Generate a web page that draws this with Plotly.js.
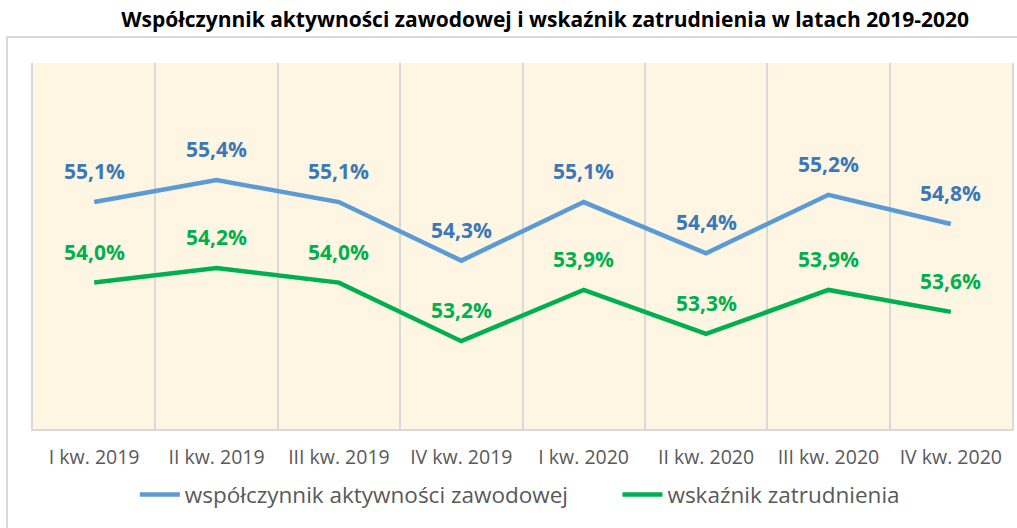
<!DOCTYPE html>
<html>
<head>
<meta charset="utf-8">
<script src="https://cdn.plot.ly/plotly-3.0.1.min.js"></script>
<style>html,body{margin:0;padding:0;background:#fff;}#chart{width:1017px;height:528px;}</style>
</head>
<body>
<div id="chart"></div>
<script>
const categories = ["I kw. 2019","II kw. 2019","III kw. 2019","IV kw. 2019","I kw. 2020","II kw. 2020","III kw. 2020","IV kw. 2020"];
const activityRate = [55.1, 55.4, 55.1, 54.3, 55.1, 54.4, 55.2, 54.8];
const employmentRate = [54.0, 54.2, 54.0, 53.2, 53.9, 53.3, 53.9, 53.6];
const seriesNames = ["współczynnik aktywności zawodowej", "wskaźnik zatrudnienia"];
const chartTitle = "Współczynnik aktywności zawodowej i wskaźnik zatrudnienia w latach 2019-2020";

const fmt = v => v.toFixed(1).replace('.', ',') + '%';
const FONT = "Open Sans, Noto Sans, sans-serif";

const traces = [
  {x: categories, y: activityRate, name: seriesNames[0], type: 'scatter', mode: 'lines', legend: 'legend',
   line: {color: '#5B9BD5', width: 4.5}, hoverinfo: 'skip'},
  {x: categories, y: employmentRate, name: seriesNames[1], type: 'scatter', mode: 'lines', legend: 'legend2',
   line: {color: '#00B050', width: 4.5}, hoverinfo: 'skip'}
];

const annotations = [];
activityRate.forEach((v, i) => annotations.push({x: categories[i], y: v, xref: 'x', yref: 'y', text: fmt(v),
  showarrow: false, yshift: 31, font: {family: FONT, size: 21, color: '#3A78B8', weight: 'bold'}}));
employmentRate.forEach((v, i) => annotations.push({x: categories[i], y: v, xref: 'x', yref: 'y', text: fmt(v),
  showarrow: false, yshift: 31, font: {family: FONT, size: 21, color: '#00B050', weight: 'bold'}}));

const legendFont = {family: FONT, size: 22.5, color: '#595959'};

const layout = {
  width: 1017, height: 528,
  margin: {l: 33, r: 5, t: 63, b: 99},
  paper_bgcolor: '#FFFFFF',
  plot_bgcolor: '#FEF5E2',
  title: {text: '<b>' + chartTitle + '</b>', x: 0.536, xref: 'container', xanchor: 'center', y: 0.963, yref: 'container', yanchor: 'middle',
          font: {family: FONT, size: 21, color: '#000000'}},
  xaxis: {type: 'category', tickson: 'boundaries', showgrid: true, gridcolor: '#D9D9D9', gridwidth: 2,
          showline: true, linecolor: '#D9D9D9', linewidth: 2, ticks: '', ticklabelstandoff: 10,
          tickfont: {family: FONT, size: 19.5, color: '#595959'}, range: [-0.5, 7.5], fixedrange: true},
  yaxis: {range: [52, 57], showgrid: false, zeroline: false, showticklabels: false, ticks: '',
          showline: true, mirror: true, linecolor: '#D9D9D9', linewidth: 2, fixedrange: true},
  showlegend: true,
  legend: {orientation: 'h', x: 0.104, xanchor: 'left', y: -0.18, yanchor: 'middle', font: legendFont,
           itemwidth: 40, bgcolor: 'rgba(0,0,0,0)'},
  legend2: {orientation: 'h', x: 0.597, xanchor: 'left', y: -0.18, yanchor: 'middle', font: legendFont,
           itemwidth: 40, bgcolor: 'rgba(0,0,0,0)'},
  shapes: [{type: 'rect', xref: 'paper', yref: 'paper', x0: -0.0266, x1: 1.2, y0: -0.6, y1: 1.071,
            line: {color: '#D9D9D9', width: 2}, fillcolor: 'rgba(0,0,0,0)', layer: 'below'}],
  annotations: annotations
};

Plotly.newPlot('chart', traces, layout, {displayModeBar: false, staticPlot: true});
</script>
</body>
</html>
